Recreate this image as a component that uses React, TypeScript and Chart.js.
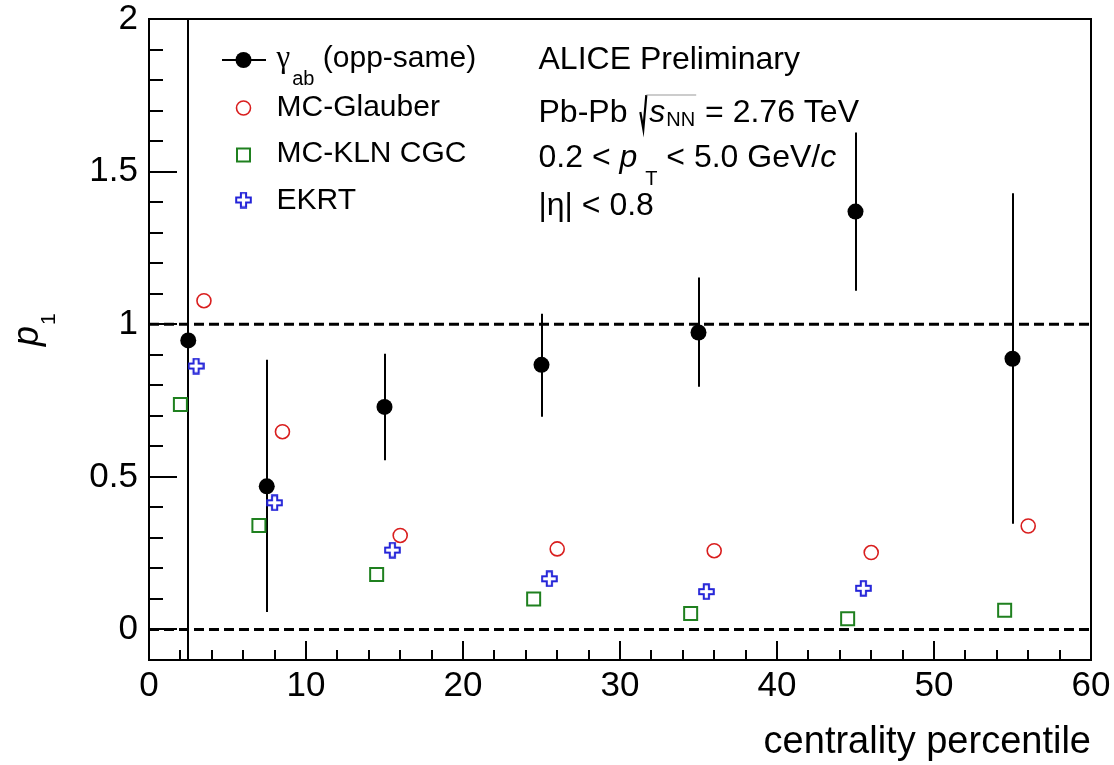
import React, { useEffect, useRef } from 'react';
import { Chart, registerables } from 'chart.js';

Chart.register(...registerables);

const FONT = '"Liberation Sans", Arial, Helvetica, sans-serif';
const SERIF = '"Liberation Serif", "Times New Roman", serif';

// ---- data ----
const binCenters = [2.5, 7.5, 15, 25, 35, 45, 55];
const gammaY = [0.947, 0.469, 0.729, 0.867, 0.973, 1.369, 0.887];
const gammaLow = [-0.6, 0.057, 0.554, 0.697, 0.795, 1.11, 0.346];
const gammaHigh = [2.6, 0.884, 0.903, 1.034, 1.153, 1.628, 1.429];

const glauberX = [3.5, 8.5, 16, 26, 36, 46, 56];
const glauberY = [1.077, 0.648, 0.308, 0.264, 0.258, 0.252, 0.339];

const klnX = [2, 7, 14.5, 24.5, 34.5, 44.5, 54.5];
const klnY = [0.737, 0.341, 0.18, 0.1, 0.052, 0.035, 0.063];

const ekrtX = [3, 8, 15.5, 25.5, 35.5, 45.5];
const ekrtY = [0.863, 0.415, 0.26, 0.166, 0.124, 0.135];

const refLevels = [0, 1];

const xMajorTicks = [0, 10, 20, 30, 40, 50, 60];
const yMajorTicks = [0, 0.5, 1, 1.5, 2];
const xRange = [0, 60];
const yRange = [-0.1, 2];
const xMinorStep = 2;
const yMinorStep = 0.1;

const seriesNames = ['(opp-same)', 'MC-Glauber', 'MC-KLN CGC', 'EKRT'];

const RED = '#d91e1e';
const GREEN = '#1f801f';
const BLUE = '#2323d8';

function makeCross(size: number, color: string): HTMLCanvasElement {
  const c = document.createElement('canvas');
  c.width = size;
  c.height = size;
  const g = c.getContext('2d')!;
  const m = size / 2;
  const a = 2.6;
  const e = m - 1.2;
  g.strokeStyle = color;
  g.lineWidth = 2;
  g.beginPath();
  const pts = [
    [-a, -e], [a, -e], [a, -a], [e, -a], [e, a], [a, a],
    [a, e], [-a, e], [-a, a], [-e, a], [-e, -a], [-a, -a],
  ];
  pts.forEach(([px, py], i) => {
    if (i === 0) g.moveTo(m + px, m + py);
    else g.lineTo(m + px, m + py);
  });
  g.closePath();
  g.stroke();
  return c;
}

function makePlugin(cross: HTMLCanvasElement) {
  return {
    id: 'rootStyle',
    beforeDatasetsDraw(chart: any) {
      const { ctx, chartArea: a, scales } = chart;
      const x = scales.x;
      const y = scales.y;
      ctx.save();
      ctx.beginPath();
      ctx.rect(a.left, a.top, a.right - a.left, a.bottom - a.top);
      ctx.clip();
      ctx.strokeStyle = '#000';
      ctx.lineWidth = 2;
      binCenters.forEach((xv, i) => {
        const px = Math.round(x.getPixelForValue(xv));
        ctx.beginPath();
        ctx.moveTo(px, y.getPixelForValue(gammaLow[i]));
        ctx.lineTo(px, y.getPixelForValue(gammaHigh[i]));
        ctx.stroke();
      });
      ctx.restore();
    },
    afterDatasetsDraw(chart: any) {
      const { ctx, chartArea: a, scales } = chart;
      const x = scales.x;
      const y = scales.y;
      ctx.save();
      // frame
      ctx.strokeStyle = '#000';
      ctx.lineWidth = 2;
      ctx.strokeRect(a.left, a.top, a.right - a.left, a.bottom - a.top);
      // y ticks (inside)
      const ky0 = Math.ceil(yRange[0] / yMinorStep - 1e-6);
      const ky1 = Math.floor(yRange[1] / yMinorStep + 1e-6);
      for (let k = ky0; k <= ky1; k++) {
        const v = k * yMinorStep;
        const major = yMajorTicks.some((t) => Math.abs(t - v) < 1e-6);
        const py = Math.round(y.getPixelForValue(v));
        ctx.beginPath();
        ctx.moveTo(a.left, py);
        ctx.lineTo(a.left + (major ? 28 : 14), py);
        ctx.stroke();
      }
      const kx0 = Math.ceil(xRange[0] / xMinorStep);
      const kx1 = Math.floor(xRange[1] / xMinorStep);
      for (let k = kx0; k <= kx1; k++) {
        const v = k * xMinorStep;
        const major = xMajorTicks.includes(v);
        const px = Math.round(x.getPixelForValue(v));
        ctx.beginPath();
        ctx.moveTo(px, a.bottom);
        ctx.lineTo(px, a.bottom - (major ? 19 : 10));
        ctx.stroke();
      }

      // ---- legend ----
      const L = a.left;
      const T = a.top;
      const mx = L + 94.5;
      const tx = L + 127.5;
      const rowY = [T + 41, T + 89, T + 136, T + 181];
      const baseY = [T + 48, T + 96.5, T + 143, T + 189.5];
      ctx.strokeStyle = '#000';
      ctx.lineWidth = 2;
      ctx.beginPath();
      ctx.moveTo(L + 73, rowY[0]);
      ctx.lineTo(L + 117, rowY[0]);
      ctx.stroke();
      ctx.fillStyle = '#000';
      ctx.beginPath();
      ctx.arc(mx, rowY[0], 8, 0, Math.PI * 2);
      ctx.fill();
      ctx.strokeStyle = RED;
      ctx.lineWidth = 1.6;
      ctx.beginPath();
      ctx.arc(mx, rowY[1], 7, 0, Math.PI * 2);
      ctx.stroke();
      ctx.strokeStyle = GREEN;
      ctx.lineWidth = 2;
      ctx.strokeRect(mx - 6.5, rowY[2] - 6.5, 13, 13);
      ctx.drawImage(cross, mx - cross.width / 2, rowY[3] - cross.height / 2);

      ctx.fillStyle = '#000';
      ctx.textBaseline = 'alphabetic';
      ctx.textAlign = 'left';
      ctx.font = `31px ${SERIF}`;
      ctx.fillText('\u03b3', tx, baseY[0]);
      const gw = ctx.measureText('\u03b3').width;
      ctx.font = `20px ${FONT}`;
      ctx.fillText('ab', tx + gw + 2, baseY[0] + 18);
      const abw = ctx.measureText('ab').width;
      ctx.font = `30px ${FONT}`;
      ctx.fillText(' ' + seriesNames[0], tx + gw + 2 + abw, baseY[0]);
      ctx.fillText(seriesNames[1], tx, baseY[1]);
      ctx.fillText(seriesNames[2], tx, baseY[2]);
      ctx.fillText(seriesNames[3], tx, baseY[3]);

      // ---- annotation text ----
      const ax = L + 389.5;
      const F = 32;
      const reg = `${F}px ${FONT}`;
      const ital = `italic ${F}px ${FONT}`;
      const sub = `20px ${FONT}`;
      const seg = (text: string, font: string, xx: number, yy: number) => {
        ctx.font = font;
        ctx.fillText(text, xx, yy);
        return xx + ctx.measureText(text).width;
      };
      seg('ALICE Preliminary', reg, ax, T + 50);
      const b2 = T + 103;
      let cx = seg('Pb-Pb ', reg, ax, b2);
      const sx = cx + 5;
      const topY = b2 - 27;
      ctx.strokeStyle = '#000';
      ctx.lineWidth = 2.2;
      ctx.beginPath();
      ctx.moveTo(sx - 1, b2 - 10);
      ctx.lineTo(sx + 2, b2 + 7);
      ctx.lineTo(sx + 5, topY);
      ctx.stroke();
      cx = seg('s', ital, sx + 8, b2);
      cx = seg('NN', sub, cx + 1, b2 + 4);
      ctx.strokeStyle = '#999';
      ctx.lineWidth = 1;
      ctx.beginPath();
      ctx.moveTo(sx + 5, topY);
      ctx.lineTo(cx + 1, topY);
      ctx.stroke();
      seg(' = 2.76 TeV', reg, cx + 1, b2);
      const b3 = T + 148;
      cx = seg('0.2 < ', reg, ax, b3);
      cx = seg('p', ital, cx, b3);
      cx = seg('T', sub, cx + 8, b3 + 18);
      cx = seg(' < 5.0 GeV/', reg, cx, b3);
      seg('c', ital, cx, b3);
      const b4 = T + 196;
      seg('|\u03b7| < 0.8', reg, ax, b4);

      // ---- y axis title ----
      ctx.save();
      ctx.translate(L - 111, T + 327);
      ctx.rotate(-Math.PI / 2);
      ctx.font = `italic 36px ${FONT}`;
      ctx.fillText('p', 0, 0);
      const pw = ctx.measureText('p').width;
      ctx.font = `21px ${FONT}`;
      ctx.fillText('1', pw + 1, 17);
      ctx.restore();

      ctx.restore();
    },
  };
}

export default function App() {
  const ref = useRef<HTMLCanvasElement>(null);
  useEffect(() => {
    const canvas = ref.current!;
    const cross = makeCross(17, BLUE);
    const tickFont = { family: FONT, size: 35, lineHeight: 1 };
    const chart = new Chart(canvas, {
      type: 'scatter',
      data: {
        datasets: [
          ...refLevels.map((lvl) => ({
            type: 'line' as const,
            label: `ref ${lvl}`,
            data: [
              { x: xRange[0], y: lvl },
              { x: xRange[1], y: lvl },
            ],
            borderColor: '#000',
            borderWidth: 3,
            borderDash: [10, 5],
            pointRadius: 0,
            fill: false,
            order: 10,
          })),
          {
            label: 'gamma_ab (opp-same)',
            data: binCenters.map((xv, i) => ({ x: xv, y: gammaY[i] })),
            pointStyle: 'circle',
            pointRadius: 8,
            backgroundColor: '#000',
            borderColor: '#000',
            borderWidth: 0,
            order: 1,
          },
          {
            label: seriesNames[1],
            data: glauberX.map((xv, i) => ({ x: xv, y: glauberY[i] })),
            pointStyle: 'circle',
            pointRadius: 7,
            backgroundColor: 'rgba(0,0,0,0)',
            borderColor: RED,
            borderWidth: 1.6,
            order: 2,
          },
          {
            label: seriesNames[2],
            data: klnX.map((xv, i) => ({ x: xv, y: klnY[i] })),
            pointStyle: 'rect',
            pointRadius: 9.2,
            backgroundColor: 'rgba(0,0,0,0)',
            borderColor: GREEN,
            borderWidth: 2,
            order: 3,
          },
          {
            label: seriesNames[3],
            data: ekrtX.map((xv, i) => ({ x: xv, y: ekrtY[i] })),
            pointStyle: cross,
            pointRadius: 8,
            backgroundColor: BLUE,
            borderColor: BLUE,
            order: 4,
          },
        ],
      } as any,
      options: {
        animation: false,
        responsive: false,
        devicePixelRatio: 1,
        events: [],
        layout: { autoPadding: false, padding: { top: 19, right: 23, left: 0, bottom: 0 } },
        plugins: { legend: { display: false }, tooltip: { enabled: false } },
        scales: {
          x: {
            type: 'linear',
            min: xRange[0],
            max: xRange[1],
            afterBuildTicks: (s: any) => {
              s.ticks = xMajorTicks.map((v) => ({ value: v }));
            },
            afterFit: (s: any) => {
              s.height = 105;
            },
            grid: { display: false, drawTicks: true, tickLength: 9 },
            border: { display: false },
            ticks: {
              font: tickFont,
              color: '#000',
              padding: 0,
              maxRotation: 0,
              autoSkip: false,
              callback: (v: any) => String(v),
            },
            title: {
              display: true,
              text: 'centrality percentile',
              align: 'end',
              color: '#000',
              font: { family: FONT, size: 38 },
              padding: { top: 0, bottom: 0 },
            },
          },
          y: {
            type: 'linear',
            min: yRange[0],
            max: yRange[1],
            afterBuildTicks: (s: any) => {
              s.ticks = yMajorTicks.map((v) => ({ value: v }));
            },
            afterFit: (s: any) => {
              s.width = 149;
            },
            grid: { display: false, drawTicks: true, tickLength: 11 },
            border: { display: false },
            ticks: {
              font: tickFont,
              color: '#000',
              padding: 0,
              autoSkip: false,
              callback: (v: any) => String(v),
            },
          },
        },
      } as any,
      plugins: [makePlugin(cross)],
    });
    return () => chart.destroy();
  }, []);
  return (
    <canvas
      ref={ref}
      width={1114}
      height={765}
      style={{ position: 'absolute', left: 0, top: 0, width: 1114, height: 765, display: 'block' }}
    />
  );
}
